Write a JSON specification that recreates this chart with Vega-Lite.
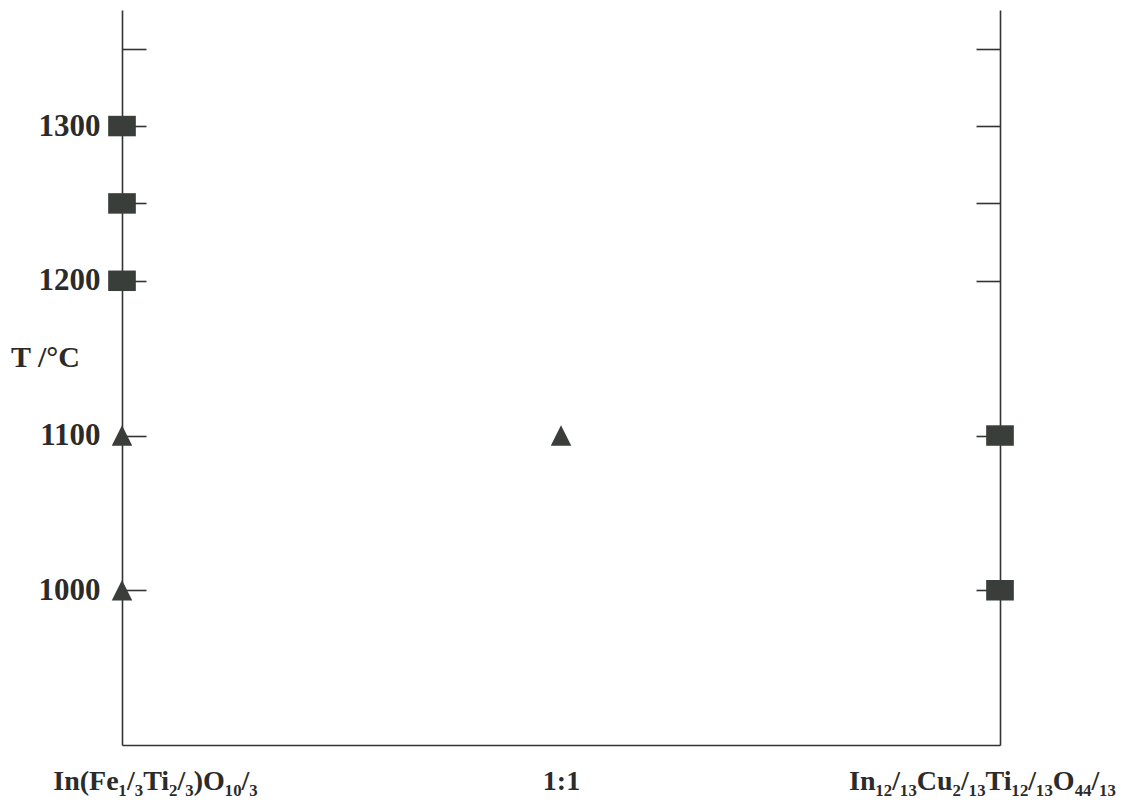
{
  "$schema": "https://vega.github.io/schema/vega-lite/v6.json",
  "width": 878,
  "height": 735,
  "autosize": {"type": "none"},
  "padding": {"left": 122, "top": 10, "right": 148, "bottom": 65},
  "background": "white",
  "config": {
    "view": {"stroke": null},
    "axis": {
      "grid": false,
      "domain": true,
      "domainColor": "#333333",
      "domainWidth": 1.6,
      "tickColor": "#333333",
      "tickWidth": 1.6,
      "labelFont": "Liberation Serif",
      "labelFontWeight": "bold",
      "labelColor": "#2b2b2b",
      "titleFont": "Liberation Serif",
      "titleFontWeight": "bold",
      "titleColor": "#2b2b2b",
      "labelOverlap": false,
      "labelFlush": false,
      "labelLimit": 0
    }
  },
  "data": {
    "values": [
      {"comp": 0, "T": 1300, "marker": "square"},
      {"comp": 0, "T": 1250, "marker": "square"},
      {"comp": 0, "T": 1200, "marker": "square"},
      {"comp": 0, "T": 1100, "marker": "triangle"},
      {"comp": 0, "T": 1000, "marker": "triangle"},
      {"comp": 0.5, "T": 1100, "marker": "triangle"},
      {"comp": 1, "T": 1100, "marker": "square"},
      {"comp": 1, "T": 1000, "marker": "square"}
    ]
  },
  "layer": [
    {
      "transform": [{"filter": "datum.comp < 1"}],
      "mark": {"type": "point", "filled": true, "opacity": 1, "strokeWidth": 0, "size": 420},
      "encoding": {
        "x": {
          "field": "comp",
          "type": "quantitative",
          "scale": {"domain": [0, 1], "nice": false, "zero": false},
          "axis": {
            "orient": "bottom",
            "values": [0, 0.5, 1],
            "ticks": false,
            "title": null,
            "labelFontSize": 28,
            "labelPadding": 22,
            "labelLimit": 0,
            "labelOffset": {"condition": [{"test": "datum.value == 0", "value": 33}, {"test": "datum.value == 1", "value": -18}], "value": 0},
            "labelExpr": "datum.value == 0 ? 'In(Fe₁/₃Ti₂/₃)O₁₀/₃' : datum.value == 1 ? 'In₁₂/₁₃Cu₂/₁₃Ti₁₂/₁₃O₄₄/₁₃' : '1:1'"
          }
        },
        "y": {
          "field": "T",
          "type": "quantitative",
          "scale": {"domain": [900, 1375], "nice": false, "zero": false},
          "axis": {
            "orient": "left",
            "values": [1000, 1100, 1200, 1250, 1300, 1350],
            "tickSize": -24,
            "labelPadding": 46,
            "labelFontSize": 31,
            "labelBaseline": "middle",
            "labelExpr": "datum.value % 100 == 0 ? datum.label : ''",
            "format": "d",
            "title": "T /°C",
            "titleAngle": 0,
            "titleFontSize": 30,
            "titleAlign": "center",
            "titleBaseline": "middle",
            "titleX": -77,
            "titleY": 347
          }
        },
        "shape": {
          "field": "marker",
          "type": "nominal",
          "scale": {"domain": ["square", "triangle"], "range": ["M-1.35,-1L1.35,-1L1.35,1L-1.35,1Z", "M0,-1L1,1L-1,1Z"]},
          "legend": null
        },
        "color": {"value": "#3a3e3a"}
      }
    },
    {
      "transform": [{"filter": "datum.comp == 1"}],
      "mark": {"type": "point", "filled": true, "opacity": 1, "strokeWidth": 0, "size": 420},
      "encoding": {
        "x": {"field": "comp", "type": "quantitative", "axis": null},
        "y": {
          "field": "T",
          "type": "quantitative",
          "axis": {
            "orient": "right",
            "values": [1000, 1100, 1200, 1250, 1300, 1350],
            "tickSize": -24,
            "labels": false,
            "title": null
          }
        },
        "shape": {"field": "marker", "type": "nominal", "legend": null},
        "color": {"value": "#3a3e3a"}
      }
    }
  ],
  "resolve": {"axis": {"y": "independent", "x": "independent"}}
}
